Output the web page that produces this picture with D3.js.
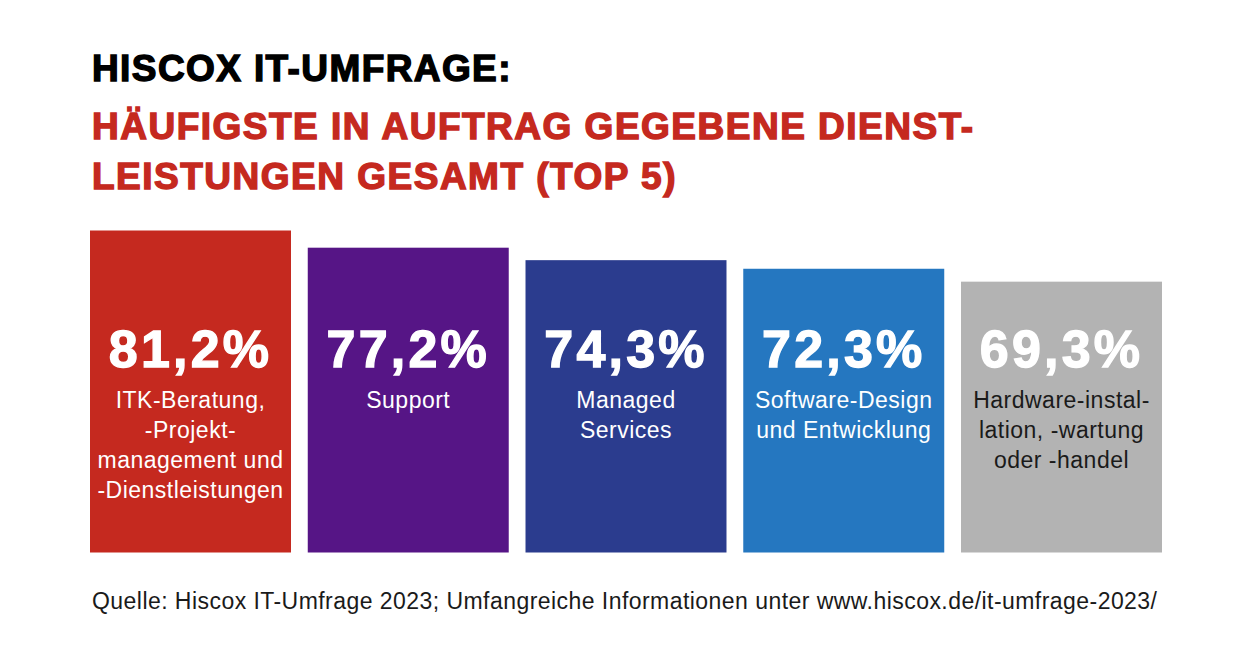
<!DOCTYPE html>
<html>
<head>
<meta charset="utf-8">
<script src="https://cdn.jsdelivr.net/npm/d3@7"></script>
<style>
  body { margin: 0; background: #fff; }
  svg { display: block; }
  .title { font-family: "Liberation Sans", Arial, sans-serif; font-weight: bold; }
  .value { font-family: "Liberation Sans", Arial, sans-serif; font-weight: bold; fill: #fff; }
  .cat { font-family: "Liberation Sans", Arial, sans-serif; }
  .source { font-family: "Liberation Sans", Arial, sans-serif; fill: #1a1a1a; }
</style>
</head>
<body>
<div id="chart"></div>
<script>
// Data
const categories = ["ITK", "Support", "Managed", "Software", "Hardware"];
const values = [81.2, 77.2, 74.3, 72.3, 69.3];
const labelLines = [
  ["ITK-Beratung,", "-Projekt-", "management und", "-Dienstleistungen"],
  ["Support"],
  ["Managed", "Services"],
  ["Software-Design", "und Entwicklung"],
  ["Hardware-instal-", "lation, -wartung", "oder -handel"]
];
const barColors = ["#c5291f", "#561586", "#2b3c8e", "#2577c0", "#b3b3b3"];
const labelColors = ["#fff", "#fff", "#fff", "#fff", "#1a1a1a"];

const titleLines = ["HISCOX IT-UMFRAGE:"];
const subtitleLines = ["HÄUFIGSTE IN AUFTRAG GEGEBENE DIENST-", "LEISTUNGEN GESAMT (TOP 5)"];
const source = "Quelle: Hiscox IT-Umfrage 2023; Umfangreiche Informationen unter www.hiscox.de/it-umfrage-2023/";

const W = 1249, H = 650;
const svg = d3.select("#chart").append("svg")
  .attr("width", W)
  .attr("height", H);

// Titles
svg.append("text")
  .attr("class", "title")
  .attr("x", 92)
  .attr("y", 81)
  .attr("font-size", 37)
  .attr("letter-spacing", 1.4)
  .attr("fill", "#000")
  .attr("stroke", "#000")
  .attr("stroke-width", 1.4)
  .text(titleLines[0]);

svg.selectAll(".subtitle")
  .data(subtitleLines)
  .join("text")
  .attr("class", "title subtitle")
  .attr("x", 92)
  .attr("y", (d, i) => 138.5 + i * 50)
  .attr("font-size", 37)
  .attr("letter-spacing", 1.5)
  .attr("fill", "#c5291f")
  .attr("stroke", "#c5291f")
  .attr("stroke-width", 1.4)
  .text(d => d);

// Scales
const x = d3.scaleBand()
  .domain(categories)
  .range([90, 1162])
  .paddingInner(0.077)
  .paddingOuter(0);

const y = d3.scaleLinear()
  .domain([6.3, 81.2])
  .range([552.5, 230.5]);

const data = categories.map((c, i) => ({
  cat: c, value: values[i], lines: labelLines[i],
  color: barColors[i], labelColor: labelColors[i]
}));

const bars = svg.selectAll(".bar")
  .data(data)
  .join("g")
  .attr("class", "bar");

bars.append("rect")
  .attr("x", d => x(d.cat))
  .attr("width", x.bandwidth())
  .attr("y", d => y(d.value))
  .attr("height", d => y.range()[0] - y(d.value))
  .attr("fill", d => d.color);

bars.append("text")
  .attr("class", "value")
  .attr("x", d => x(d.cat) + x.bandwidth() / 2)
  .attr("y", 367)
  .attr("text-anchor", "middle")
  .attr("font-size", 52)
  .attr("letter-spacing", 3.2)
  .attr("stroke", "#fff")
  .attr("stroke-width", 1.3)
  .text(d => d.value.toFixed(1).replace(".", ",") + "%");

bars.each(function(d) {
  d3.select(this).selectAll(".cat")
    .data(d.lines)
    .join("text")
    .attr("class", "cat")
    .attr("x", x(d.cat) + x.bandwidth() / 2)
    .attr("y", (t, i) => 407.5 + i * 30)
    .attr("text-anchor", "middle")
    .attr("font-size", 23)
    .attr("letter-spacing", 0.5)
    .attr("fill", d.labelColor)
    .text(t => t);
});

// Source
svg.append("text")
  .attr("class", "source")
  .attr("x", 92)
  .attr("y", 609)
  .attr("font-size", 23)
  .attr("letter-spacing", 0.45)
  .text(source);
</script>
</body>
</html>
